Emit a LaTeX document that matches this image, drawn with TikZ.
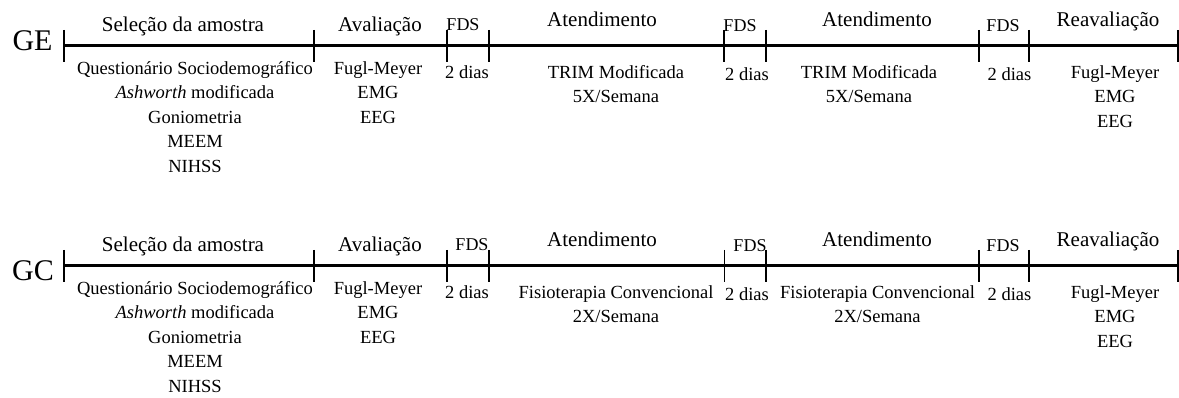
\documentclass[tikz,border=0pt]{standalone}
\usepackage{fontspec}
\setmainfont{Liberation Serif}
\tikzset{
  fase/.style={font=\fontsize{21}{25}\selectfont, inner sep=0pt, anchor=base},
  fds/.style={font=\fontsize{18}{22}\selectfont, inner sep=0pt, anchor=base},
  info/.style={font=\fontsize{18.5}{24.5}\selectfont, inner sep=0pt, anchor=north, align=center,
    execute at begin node={\rule{0pt}{15pt}}},
  grupo/.style={font=\fontsize{30}{34}\selectfont, inner sep=0pt, anchor=base},
  eixo/.style={line width=3pt},
  marca/.style={line width=2.6pt},
  marcafina/.style={line width=0.9pt},
}

\begin{document}
\begin{tikzpicture}[x=1pt,y=-1pt]
\useasboundingbox (0,0) rectangle (1179,398);

% Linha do tempo GE
\foreach \n/\x in {0/64,1/314,2/447,3/489,4/724,5/766,6/979,7/1029,8/1178}
  \coordinate (ge\n) at (\x,46);
\draw[eixo] (ge0) -- (ge8);
\foreach \n in {0,...,8}
  \draw[marca] ([yshift=16pt]ge\n) -- ([yshift=-16pt]ge\n);

\node[grupo] (ge) at (32.5,51) {GE};
\node[fase] (ge-sel) at (183,32) {Seleção da amostra};
\node[fase] (ge-ava) at (380,32) {Avaliação};
\node[fds] (ge-fds1) at (463,31) {FDS};
\node[fase] (ge-at1) at (602,27) {Atendimento};
\node[fds] (ge-fds2) at (740,32) {FDS};
\node[fase] (ge-at2) at (877,27) {Atendimento};
\node[fds] (ge-fds3) at (1003,32) {FDS};
\node[fase] (ge-rea) at (1108,27) {Reavaliação};

% abaixo da linha (baseline - 15)
\node[info] (ge-sel-i) at (195,61) {Questionário Sociodemográfico\\\textit{Ashworth} modificada\\Goniometria\\MEEM\\NIHSS};
\node[info] (ge-ava-i) at (378,61) {Fugl-Meyer\\EMG\\EEG};
\node[info] (ge-fds1-i) at (467,63) {2 dias};
\node[info] (ge-at1-i) at (616,65) {TRIM Modificada\\5X/Semana};
\node[info] (ge-fds2-i) at (747,65) {2 dias};
\node[info] (ge-at2-i) at (869,65) {TRIM Modificada\\5X/Semana};
\node[info] (ge-fds3-i) at (1009.5,65) {2 dias};
\node[info] (ge-rea-i) at (1115,65) {Fugl-Meyer\\EMG\\EEG};

% Linha do tempo GC
\foreach \n/\x in {0/64,1/314,2/447,3/489,4/724,5/766,6/979,7/1029,8/1178}
  \coordinate (gc\n) at (\x,266);
\draw[eixo] (gc0) -- (gc8);
\foreach \n in {0,1,2,3,5,6,7,8}
  \draw[marca] ([yshift=16pt]gc\n) -- ([yshift=-16pt]gc\n);
\draw[marcafina] ([yshift=16pt]gc4) -- ([yshift=-16pt]gc4);

\node[grupo] (gc) at (33,281) {GC};
\node[fase] (gc-sel) at (183,252) {Seleção da amostra};
\node[fase] (gc-ava) at (380,252) {Avaliação};
\node[fds] (gc-fds1) at (472,251) {FDS};
\node[fase] (gc-at1) at (602,247) {Atendimento};
\node[fds] (gc-fds2) at (750,252) {FDS};
\node[fase] (gc-at2) at (877,247) {Atendimento};
\node[fds] (gc-fds3) at (1003,252) {FDS};
\node[fase] (gc-rea) at (1108,247) {Reavaliação};

\node[info] (gc-sel-i) at (195,281) {Questionário Sociodemográfico\\\textit{Ashworth} modificada\\Goniometria\\MEEM\\NIHSS};
\node[info] (gc-ava-i) at (378,281) {Fugl-Meyer\\EMG\\EEG};
\node[info] (gc-fds1-i) at (467,283) {2 dias};
\node[info] (gc-at1-i) at (616,285) {Fisioterapia Convencional\\2X/Semana};
\node[info] (gc-fds2-i) at (747,285) {2 dias};
\node[info] (gc-at2-i) at (877.5,285) {Fisioterapia Convencional\\2X/Semana};
\node[info] (gc-fds3-i) at (1009.5,285) {2 dias};
\node[info] (gc-rea-i) at (1115,285) {Fugl-Meyer\\EMG\\EEG};
\end{tikzpicture}
\end{document}
